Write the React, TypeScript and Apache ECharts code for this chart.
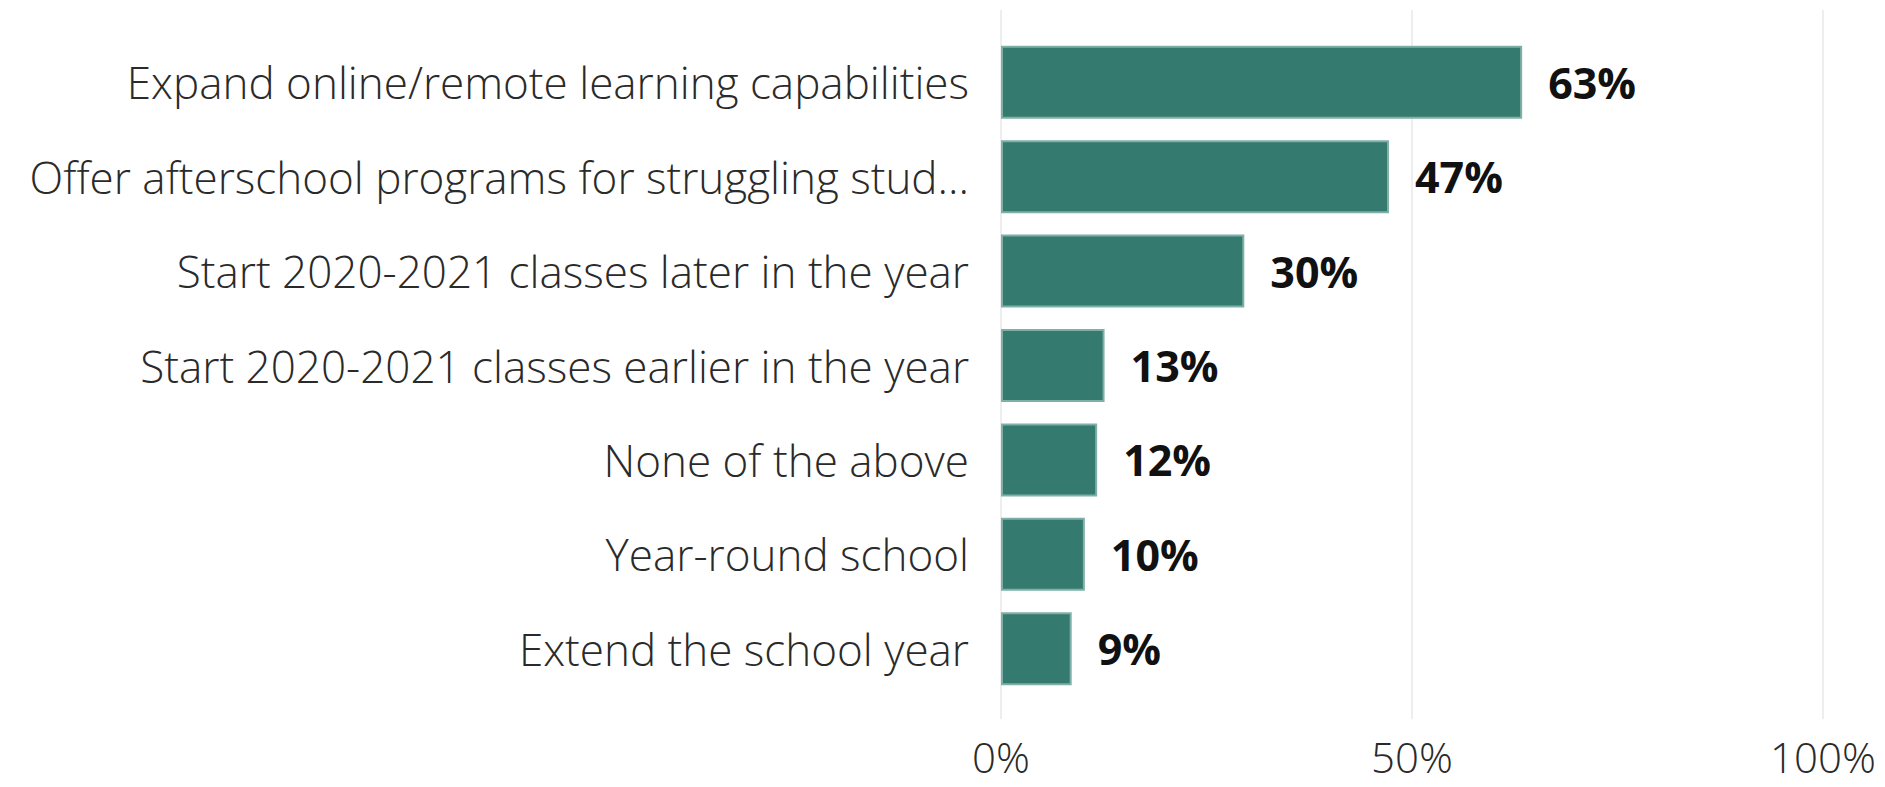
import React, { useEffect, useRef } from "react";
import * as echarts from "echarts";

const categories: string[] = [
  "Expand online/remote learning capabilities",
  "Offer afterschool programs for struggling stud...",
  "Start 2020-2021 classes later in the year",
  "Start 2020-2021 classes earlier in the year",
  "None of the above",
  "Year-round school",
  "Extend the school year",
];
const values: number[] = [63.4, 47.2, 29.6, 12.6, 11.7, 10.2, 8.6];
const xTicks: number[] = [0, 50, 100];

const FONT = "Open Sans";

export default function App() {
  const ref = useRef<HTMLDivElement>(null);
  useEffect(() => {
    document.body.style.margin = "0";
    if (!ref.current) return;
    const chart = echarts.init(ref.current, undefined, { renderer: "svg" });
    chart.setOption({
      animation: false,
      backgroundColor: "#ffffff",
      grid: [
        { left: 1001, right: 62, top: 10, bottom: 68, containLabel: false },
        { left: 1001, right: 62, top: 35, bottom: 91, containLabel: false },
      ],
      xAxis: [
        {
          type: "value",
          gridIndex: 0,
          min: xTicks[0],
          max: xTicks[xTicks.length - 1],
          interval: 50,
          axisLine: { show: false },
          axisTick: { show: false },
          splitLine: { show: true, lineStyle: { color: "#eeeeee", width: 2 } },
          axisLabel: {
            show: true,
            margin: 16,
            formatter: (v: number) => v + "%",
            fontFamily: FONT,
            fontWeight: 300,
            fontSize: 42,
            lineHeight: 42,
            color: "#2a2a2a",
          },
        },
        {
          type: "value",
          gridIndex: 1,
          min: 0,
          max: 100,
          show: false,
        },
      ],
      yAxis: [
        {
          type: "category",
          gridIndex: 0,
          data: categories,
          show: false,
        },
        {
          type: "category",
          gridIndex: 1,
          data: categories,
          inverse: true,
          axisLine: { show: false },
          axisTick: { show: false },
          splitLine: { show: false },
          axisLabel: {
            margin: 32,
            fontFamily: FONT,
            fontWeight: 300,
            fontSize: 44,
            color: "#2a2a2a",
          },
        },
      ],
      series: [
        {
          type: "bar",
          xAxisIndex: 1,
          yAxisIndex: 1,
          data: values,
          barCategoryGap: "22.7%",
          itemStyle: {
            color: "#357a6f",
            borderColor: "#7fb0a8",
            borderWidth: 2,
          },
          label: {
            show: true,
            position: "right",
            distance: 26,
            formatter: (p: any) => Math.round(p.value) + "%",
            fontFamily: FONT,
            fontWeight: "bold",
            fontSize: 43,
            color: "#111111",
          },
        },
      ],
    });
    return () => chart.dispose();
  }, []);
  return <div ref={ref} style={{ width: 1885, height: 787 }} />;
}
